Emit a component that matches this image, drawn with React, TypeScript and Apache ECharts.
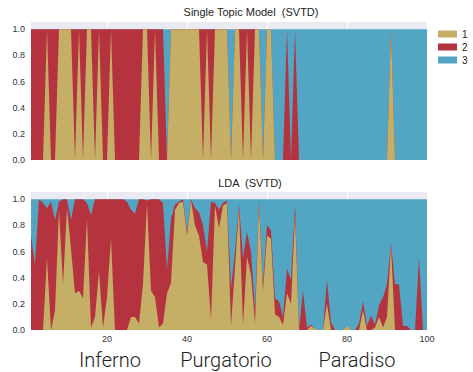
import React, { useEffect, useRef } from 'react';
import * as echarts from 'echarts';

// Cantos 1..100 (Inferno 1-34, Purgatorio 35-67, Paradiso 68-100)
const cantos: number[] = [
  1, 2, 3, 4, 5, 6, 7, 8, 9, 10, 11, 12, 13, 14, 15, 16, 17, 18, 19, 20,
  21, 22, 23, 24, 25, 26, 27, 28, 29, 30, 31, 32, 33, 34, 35, 36, 37, 38, 39, 40,
  41, 42, 43, 44, 45, 46, 47, 48, 49, 50, 51, 52, 53, 54, 55, 56, 57, 58, 59, 60,
  61, 62, 63, 64, 65, 66, 67, 68, 69, 70, 71, 72, 73, 74, 75, 76, 77, 78, 79, 80,
  81, 82, 83, 84, 85, 86, 87, 88, 89, 90, 91, 92, 93, 94, 95, 96, 97, 98, 99, 100,
];

const topicNames = ['1', '2', '3'];
const topicColors = ['#C5AE65', '#B5333F', '#52A6C3'];

// Single topic model: topic assigned to each canto
const singleTopic: number[] = [
  2, 2, 2, 2, 1, 2, 2, 1, 1, 1,
  1, 2, 1, 2, 1, 1, 2, 1, 2, 2,
  1, 2, 2, 2, 2, 2, 2, 2, 1, 1,
  2, 1, 2, 2, 3, 1, 1, 1, 1, 1,
  1, 1, 1, 2, 1, 2, 1, 1, 1, 1,
  3, 1, 1, 2, 1, 2, 1, 1, 3, 1,
  1, 3, 3, 3, 2, 3, 2, 3, 3, 3,
  3, 3, 3, 3, 3, 3, 3, 3, 3, 3,
  3, 3, 3, 3, 3, 3, 3, 3, 3, 3,
  1, 3, 3, 3, 3, 3, 3, 3, 3, 3,
];

// LDA topic proportions per canto (topic 1, topic 2; topic 3 is the remainder)
const ldaTopic1: number[] = [
  0, 0, 0, 0, 0.55, 0, 0.15, 0.92, 0.35, 0.93,
  0.62, 0.28, 0.3, 0.24, 0.85, 0.02, 0.1, 0.45, 0.02, 0.25,
  0.7, 0, 0, 0, 0, 0.1, 0.1, 0.05, 0.35, 0.97,
  0.3, 0.25, 0.02, 0.05, 0.28, 0.36, 0.92, 0.97, 0.98, 0.72,
  0.99, 0.8, 0.72, 0.52, 0.5, 0.08, 0.95, 0.78, 0.95, 0.97,
  0.03, 0.48, 0.93, 0.04, 0.56, 0.42, 0.05, 0.97, 0.3, 0.72,
  0.7, 0.12, 0.1, 0.04, 0.28, 0.2, 0.88, 0, 0, 0,
  0.03, 0.01, 0, 0, 0.2, 0, 0, 0, 0, 0.03,
  0, 0, 0, 0.15, 0, 0, 0.02, 0.1, 0.02, 0.1,
  0.64, 0, 0, 0, 0, 0, 0, 0, 0, 0,
];

const ldaTopic2: number[] = [
  0.72, 0.5, 1, 0.97, 0.38, 0.98, 0.69, 0.06, 0.65, 0.07,
  0.22, 0.72, 0.7, 0.76, 0.12, 0.86, 0.9, 0.55, 0.98, 0.75,
  0.3, 1, 1, 1, 0.98, 0.82, 0.79, 0.95, 0.65, 0.02,
  0.7, 0.75, 0.98, 0.92, 0.18, 0.49, 0.04, 0.01, 0.02, 0.03,
  0.01, 0.13, 0.18, 0.28, 0.1, 0.9, 0.02, 0.14, 0.02, 0.02,
  0.29, 0.12, 0.03, 0.51, 0.19, 0.18, 0.1, 0.02, 0.05, 0.08,
  0.06, 0.12, 0.12, 0.06, 0.19, 0.18, 0.08, 0, 0.3, 0.02,
  0.01, 0, 0, 0, 0.18, 0.06, 0, 0, 0, 0,
  0, 0, 0.05, 0.07, 0.03, 0.11, 0.02, 0.09, 0.23, 0.25,
  0.02, 0.35, 0.35, 0.03, 0.03, 0, 0, 0.55, 0, 0,
];

const yTicks = ['0.0', '0.2', '0.4', '0.6', '0.8', '1.0'];
const xTicks = ['20', '40', '60', '80', '100'];
const partLabels = ['Inferno', 'Purgatorio', 'Paradiso'];
const partCenters = [110, 226, 357];

const FONT = '"Liberation Sans", Arial, Helvetica, sans-serif';

export default function App() {
  const ref = useRef<HTMLDivElement>(null);

  useEffect(() => {
    if (!ref.current) return;
    const chart = echarts.init(ref.current, undefined, { renderer: 'svg' });

    // shares per topic for each panel
    const singleShares = [1, 2, 3].map((t) => singleTopic.map((a) => (a === t ? 1 : 0)));
    const ldaTopic3 = ldaTopic1.map((v, i) => Math.max(0, 1 - v - ldaTopic2[i]));
    const ldaShares = [ldaTopic1, ldaTopic2, ldaTopic3];

    // cumulative (stacked) tops, computed from the shares
    const cumulate = (shares: number[][]) => {
      const out: number[][] = [];
      let run = shares[0].map(() => 0);
      shares.forEach((s) => {
        run = run.map((r, i) => r + s[i]);
        out.push(run.slice());
      });
      return out;
    };

    const yMax = 1.055;
    const yLabelFmt = (v: number) => {
      const s = v.toFixed(1);
      return yTicks.includes(s) && Math.abs(v * 5 - Math.round(v * 5)) < 1e-6 ? s : '';
    };
    const isTick = (_i: number, val: string) => xTicks.includes(String(val));

    const mkX = (gridIndex: number, showLabel: boolean) => ({
      type: 'category',
      gridIndex,
      data: cantos.map(String),
      boundaryGap: false,
      axisLine: { show: false },
      axisTick: { show: false },
      splitLine: { show: true, interval: isTick, lineStyle: { color: '#ffffff', width: 1 } },
      axisLabel: {
        show: showLabel,
        interval: isTick,
        fontSize: 9,
        color: '#333',
        fontFamily: FONT,
        margin: 4,
      },
    });
    const mkY = (gridIndex: number) => ({
      type: 'value',
      gridIndex,
      min: 0,
      max: yMax,
      interval: 0.2,
      axisLine: { show: false },
      axisTick: { show: false },
      splitLine: { show: false },
      axisLabel: {
        formatter: yLabelFmt,
        fontSize: 9,
        color: '#333',
        fontFamily: FONT,
        margin: 6,
        showMaxLabel: false,
      },
    });

    const series: any[] = [];
    [singleShares, ldaShares].forEach((shares, gi) => {
      const cum = cumulate(shares);
      // draw topmost layer first so lower layers overlap it (no seams)
      [2, 1, 0].forEach((ti) => {
        series.push({
          name: topicNames[ti],
          type: 'line',
          xAxisIndex: gi,
          yAxisIndex: gi,
          data: cum[ti],
          symbol: 'none',
          showSymbol: false,
          lineStyle: { width: 0, color: topicColors[ti] },
          itemStyle: { color: topicColors[ti] },
          areaStyle: { color: topicColors[ti], opacity: 1 },
          emphasis: { disabled: true },
          silent: true,
        });
      });
    });

    const textStyle = (text: string, size: number, family: string, weight: any) => ({
      text,
      fontSize: size,
      fontFamily: family,
      fontWeight: weight,
      fill: '#222',
      textAlign: 'center',
      textVerticalAlign: 'middle',
      align: 'center',
      verticalAlign: 'middle',
    });

    const graphics: any[] = [
      { type: 'text', x: 251, y: 12, style: textStyle('Single Topic Model  (SVTD)', 11, FONT, 'normal') },
      { type: 'text', x: 250, y: 183, style: textStyle('LDA  (SVTD)', 11, FONT, 'normal') },
      ...partLabels.map((t, i) => ({
        type: 'text',
        x: partCenters[i],
        y: 360,
        style: textStyle(t, 20, 'Roboto, "Liberation Sans", sans-serif', 300),
      })),
    ];

    chart.setOption({
      animation: false,
      backgroundColor: '#ffffff',
      grid: [
        { left: 31, right: 46, top: 22, height: 138, show: true, backgroundColor: '#EAEAF2', borderWidth: 0 },
        { left: 31, right: 46, top: 192, height: 138, show: true, backgroundColor: '#EAEAF2', borderWidth: 0 },
      ],
      xAxis: [mkX(0, false), mkX(1, true)],
      yAxis: [mkY(0), mkY(1)],
      legend: {
        data: topicNames,
        orient: 'vertical',
        left: 433,
        top: 24,
        icon: 'rect',
        itemWidth: 19,
        itemHeight: 7,
        itemGap: 3,
        selectedMode: false,
        textStyle: { fontSize: 10, color: '#222', fontFamily: FONT, lineHeight: 10 },
      },
      series,
      graphic: graphics,
    });

    return () => chart.dispose();
  }, []);

  return (
    <div
      ref={ref}
      style={{ position: 'fixed', left: 0, top: 0, width: 473, height: 372 }}
    />
  );
}
